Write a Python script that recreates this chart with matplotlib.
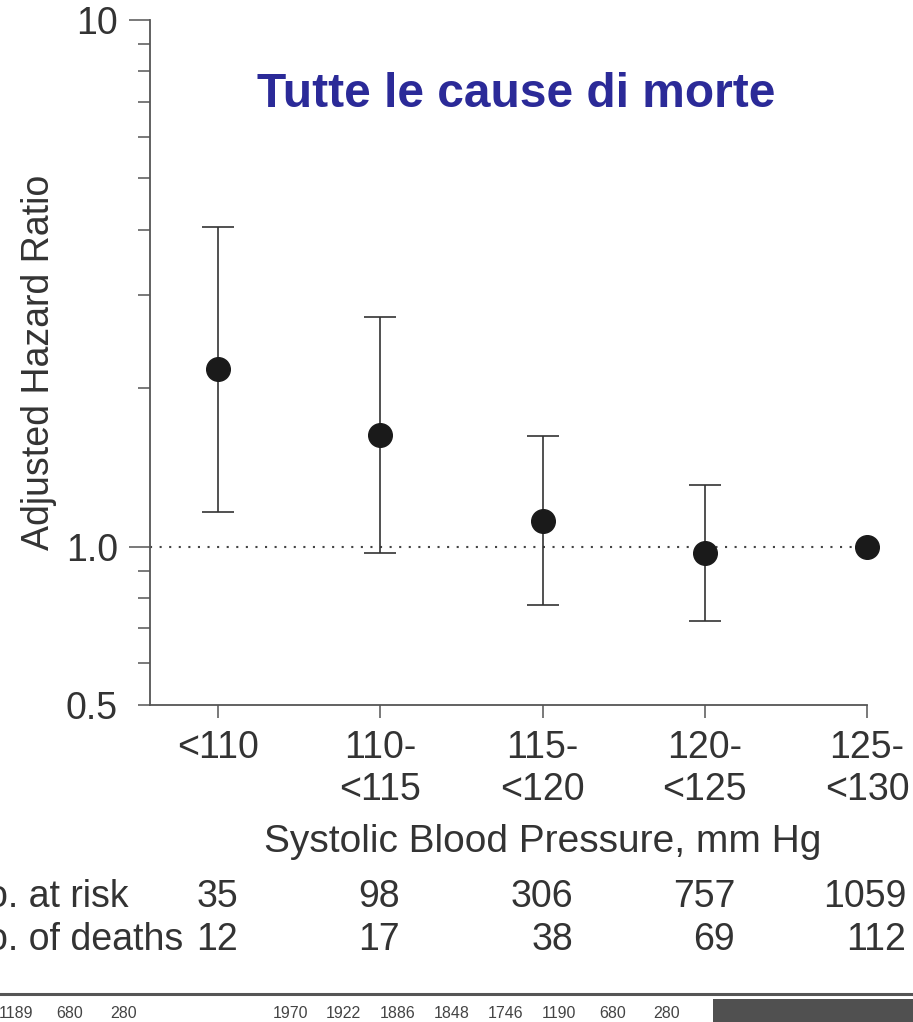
import matplotlib.pyplot as plt
from matplotlib.ticker import FixedLocator, FixedFormatter

# SBP groups and adjusted hazard ratios (reference group 125-<130)
groups = ["<110", "110-\n<115", "115-\n<120", "120-\n<125", "125-\n<130"]
hazard = [2.17, 1.63, 1.12, 0.97, 1.0]
ci_low = [1.165, 0.974, 0.773, 0.721, 1.0]
ci_high = [4.04, 2.73, 1.62, 1.31, 1.0]
at_risk = [35, 98, 306, 757, 1059]
deaths = [12, 17, 38, 69, 112]

# strip of numbers at the bottom edge
strip_left = [1189, 680, 280]
strip_right = [1970, 1922, 1886, 1848, 1746, 1190, 680, 280]

W, H = 913, 1022
plt.rcParams["font.family"] = ["Liberation Sans", "DejaVu Sans"]
TXT = "#333333"
AX = "#555555"
FS = 27

fig = plt.figure(figsize=(W / 100, H / 100), dpi=100)
fig.patch.set_facecolor("white")


def fx(px):
    return px / W


def fy(py):
    return 1 - py / H


ax = fig.add_axes([fx(150), fy(705), fx(867) - fx(150), fy(20) - fy(705)])
ax.set_yscale("log")
ax.set_ylim(0.5, 10)
x = list(range(len(groups)))
ax.set_xlim(-0.42, 4)

# reference line at HR = 1
ax.plot([-0.42, 4], [1, 1], color="#444444", lw=1.5, ls=(0, (1, 3.6)), zorder=1)

lo = [h - l for h, l in zip(hazard, ci_low)]
hi = [u - h for h, u in zip(hazard, ci_high)]
ax.errorbar(x[:4], hazard[:4], yerr=[lo[:4], hi[:4]], fmt="none",
            ecolor="#333333", elinewidth=1.2, capsize=11.5, capthick=1.2, zorder=2)
ax.plot(x, hazard, "o", color="#1a1a1a", markersize=17, zorder=3, clip_on=False)

for s in ["top", "right"]:
    ax.spines[s].set_visible(False)
for s in ["left", "bottom"]:
    ax.spines[s].set_color(AX)
    ax.spines[s].set_linewidth(1.3)

ax.yaxis.set_major_locator(FixedLocator([1.0, 10]))
ax.yaxis.set_major_formatter(FixedFormatter(["1.0", "10"]))
ax.yaxis.set_minor_locator(FixedLocator([0.5, 0.6, 0.7, 0.8, 0.9, 2, 3, 4, 5, 6, 7, 8, 9]))
ax.yaxis.set_minor_formatter(FixedFormatter(["0.5"] + [""] * 12))
ax.tick_params(axis="y", which="major", direction="out", length=15, width=1.1,
               color=AX, labelsize=FS, labelcolor=TXT, pad=8)
ax.tick_params(axis="y", which="minor", direction="out", length=9, width=1.1,
               color=AX, labelsize=FS, labelcolor=TXT, pad=14)

ax.set_xticks(x)
ax.set_xticklabels(groups)
ax.tick_params(axis="x", direction="out", length=9, width=1.1, color=AX,
               labelsize=FS, labelcolor=TXT, pad=9)
ax.set_xlabel("Systolic Blood Pressure, mm Hg", fontsize=28, color=TXT)
ax.xaxis.set_label_coords(0.548, -0.174)
ax.set_ylabel("Adjusted Hazard Ratio", fontsize=FS, color=TXT)
ax.yaxis.set_label_coords(-0.13, 0.5)

fig.text(fx(516), fy(107), "Tutte le cause di morte", fontsize=34.5, fontweight="bold",
         color="#2b2a98", ha="center", va="baseline")

# numbers table under the axis (row labels run off the left edge)
fig.text(fx(-40), fy(907), "No. at risk", fontsize=FS, color=TXT, va="baseline")
fig.text(fx(-40), fy(950), "No. of deaths", fontsize=FS, color=TXT, va="baseline")
col_right = [238, 400, 573, 735, 906]
for xr, n, d in zip(col_right, at_risk, deaths):
    fig.text(fx(xr), fy(907), str(n), fontsize=FS, color=TXT, ha="right", va="baseline")
    fig.text(fx(xr), fy(950), str(d), fontsize=FS, color=TXT, ha="right", va="baseline")

# bottom strip: rule, numbers and grey block
fig.add_artist(plt.Line2D([0, 1], [fy(994), fy(994)], color="#555555", lw=2.2))
for i, v in enumerate(strip_left):
    fig.text(fx(16 + 54 * i), fy(1018), str(v), fontsize=11.5, color="#444444", ha="center", va="baseline")
for i, v in enumerate(strip_right):
    fig.text(fx(290 + 53.8 * i), fy(1018), str(v), fontsize=11.5, color="#444444", ha="center", va="baseline")
fig.add_artist(plt.Rectangle((fx(713), 0), 1 - fx(713), fy(999), color="#505050", lw=0))

fig.savefig("out.png", dpi=100)
